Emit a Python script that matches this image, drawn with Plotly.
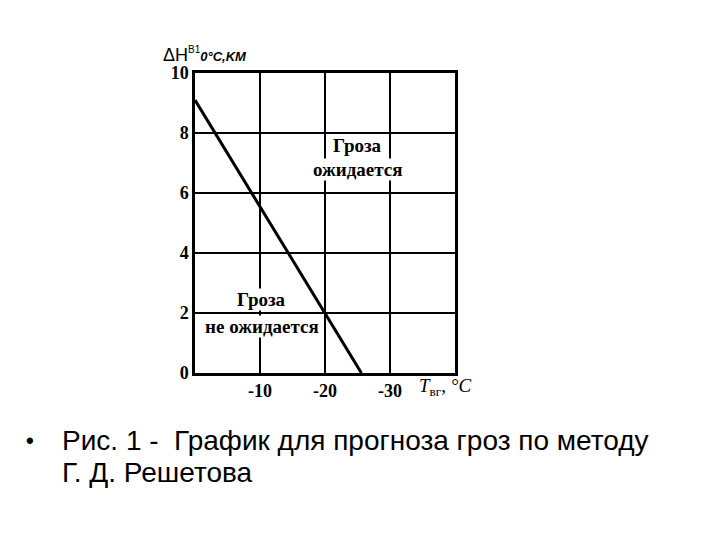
import plotly.graph_objects as go

# Data
line_t = [0, -25.6]          # T_вг, °C
line_dh = [9.1, 0]           # ΔH, km
x_tick_vals = [-10, -20, -30]
x_tick_text = ["<b>-10</b>", "<b>-20</b>", "<b>-30</b>"]
y_tick_vals = [0, 2, 4, 6, 8, 10]
y_tick_text = ["<b>0</b>", "<b>2</b>", "<b>4</b>", "<b>6</b>", "<b>8</b>", "<b>10</b>"]

serif = "Liberation Serif"
sans = "Liberation Sans"

W, H = 704, 524  # page body has an 8px margin

fig = go.Figure()
fig.add_trace(go.Scatter(x=line_t, y=line_dh, mode="lines",
                         line=dict(color="black", width=3), showlegend=False,
                         hoverinfo="skip"))

fig.update_layout(
    width=W, height=H,
    margin=dict(l=187, r=W - 447, t=65, b=H - 365, autoexpand=False),
    paper_bgcolor="white", plot_bgcolor="white",
    xaxis=dict(range=[0, -40], tickvals=x_tick_vals, ticktext=x_tick_text,
               showgrid=True, gridcolor="black", gridwidth=2,
               showline=True, linecolor="black", linewidth=2.5, mirror=True,
               zeroline=False, ticks="", ticklen=0, ticklabelstandoff=0,
               tickfont=dict(family=serif, size=18, color="black")),
    yaxis=dict(range=[0, 10], tickvals=y_tick_vals, ticktext=y_tick_text,
               showgrid=True, gridcolor="black", gridwidth=2,
               showline=True, linecolor="black", linewidth=2.5, mirror=True,
               zeroline=False, ticks="", ticklen=0,
               tickfont=dict(family=serif, size=18, color="black")),
)

anns = [
    dict(x=-25, y=7.6, text="Гроза"),
    dict(x=-25, y=6.8, text="ожидается"),
    dict(x=-10.3, y=2.45, text="Гроза"),
    dict(x=-10.3, y=1.55, text="не ожидается"),
]
for a in anns:
    a.update(xref="x", yref="y", showarrow=False, bgcolor="white", borderpad=0,
             font=dict(family=serif, size=19, color="black"))
    a["text"] = "<b>" + a["text"] + "</b>"
    fig.add_annotation(**a)

# Axis titles
fig.add_annotation(xref="paper", yref="paper", x=1.0, y=0, xanchor="left",
                   yanchor="middle", showarrow=False, xshift=-38, yshift=-14,
                   text="<i>T</i><sub>вг</sub>, <i>°C</i>",
                   font=dict(family=serif, size=19, color="black"))
fig.add_annotation(xref="paper", yref="paper", x=0, y=1, xanchor="left",
                   yanchor="bottom", showarrow=False, xshift=-34, yshift=6,
                   text="ΔH<sup><span style='font-size:10px'>B1</span></sup>"
                        "<i><b><span style='font-size:13px'>0°C,KM</span></b></i>",
                   font=dict(family=sans, size=18, color="black"))

# Caption
cap_font = dict(family=sans, size=28, color="black")
fig.add_annotation(xref="paper", yref="paper", x=0, y=0, xanchor="center",
                   yanchor="middle", showarrow=False, xshift=22 - 187, yshift=365 - 432,
                   text="<b>•</b>", font=dict(family=sans, size=22, color="black"))
fig.add_annotation(xref="paper", yref="paper", x=0, y=0, xanchor="left",
                   yanchor="middle", showarrow=False, xshift=52 - 187, yshift=365 - 432,
                   text="Рис. 1 -  График для прогноза гроз по методу", font=cap_font)
fig.add_annotation(xref="paper", yref="paper", x=0, y=0, xanchor="left",
                   yanchor="middle", showarrow=False, xshift=52 - 187, yshift=365 - 464,
                   text="Г. Д. Решетова", font=cap_font)

fig.write_html("out.html")
